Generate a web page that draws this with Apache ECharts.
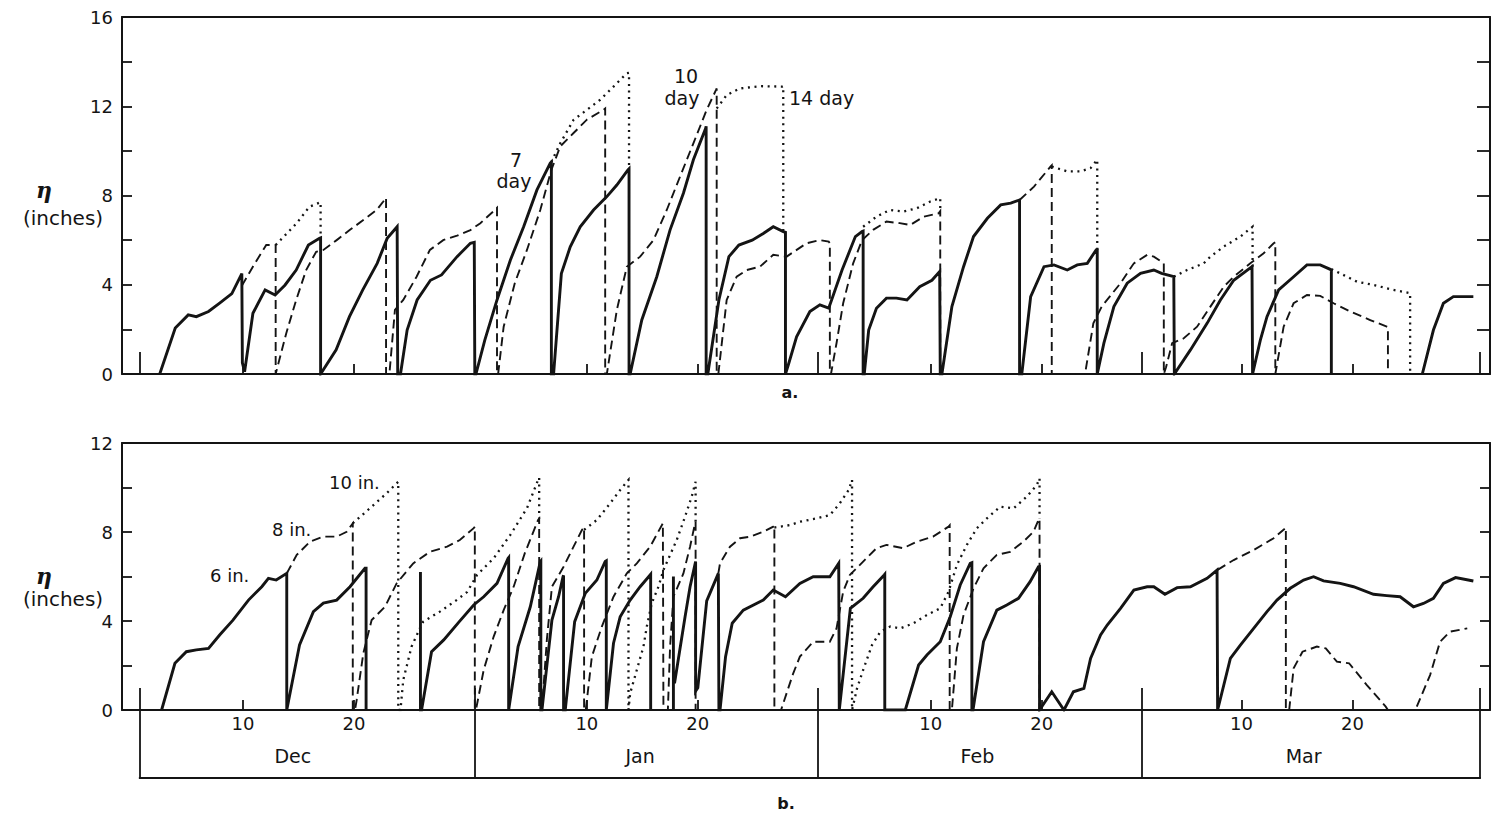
<!DOCTYPE html>
<html>
<head>
<meta charset="utf-8">
<script src="https://cdn.jsdelivr.net/npm/echarts@6/dist/echarts.min.js"></script>
<style>
  html, body { margin: 0; padding: 0; background: #ffffff; }
  #chart { width: 1499px; height: 821px; }
</style>
</head>
<body>
<div id="chart"></div>
<script>
// Day numbers are counted from 1 December (1 Dec = day 1, 1 Jan = day 32 ...).
// A null entry breaks the line.

// ---- axis ticks and labels ----
const dayTicks = [10, 20, 41, 51, 72, 82, 100, 110];
const dayTickLabels = ['10', '20', '10', '20', '10', '20', '10', '20'];
const monthEdges = [0.7, 30.9, 61.8, 91.0, 121.5];
const monthNames = ['Dec', 'Jan', 'Feb', 'Mar'];
const monthLabelDay = [14.5, 45.8, 76.2, 105.6];
const panelATicks = [0, 4, 8, 12, 16];
const panelBTicks = [0, 4, 8, 12];

// ---- panel a: ponded depth for 7, 10 and 14 day drainage intervals ----
const sevenDay = [
  [2.5,0],[3.9,2.06],[5.07,2.65],[5.8,2.57],[6.9,2.8],[7.9,3.18],[9.0,3.6],[9.9,4.5],[9.95,0.5],[10.15,0.1],
  [10.9,2.72],[12.0,3.77],[12.9,3.54],[13.8,3.99],[14.8,4.66],[15.9,5.78],[16.9,6.08],[17.0,6.1],[17.0,0],
  [18.4,1.08],[19.6,2.57],[20.8,3.77],[22.1,4.96],[23.0,6.08],[23.9,6.6],[23.95,0],[24.2,0],
  [24.8,1.97],[25.7,3.32],[26.9,4.2],[27.9,4.44],[29.3,5.26],[30.5,5.86],[30.85,5.9],[30.9,0],[31.0,0],
  [31.8,1.52],[32.9,3.32],[34.1,5.1],[35.3,6.6],[36.5,8.25],[37.7,9.45],[37.8,9.5],[37.8,0],[38.0,0],
  [38.7,4.5],[39.5,5.7],[40.4,6.6],[41.6,7.35],[42.8,7.95],[43.7,8.47],[44.7,9.15],[44.8,9.2],[44.8,0],[44.9,0],
  [45.95,2.42],[47.3,4.36],[48.5,6.46],[49.7,8.1],[50.6,9.6],[51.7,11.0],[51.75,11.1],[51.75,0],[51.9,0],
  [52.9,3.32],[53.8,5.26],[54.7,5.78],[55.9,6.0],[56.9,6.3],[57.8,6.6],[58.7,6.38],[58.9,6.35],[58.9,0],
  [59.2,0.48],[59.9,1.67],[61.1,2.8],[62.0,3.1],[62.8,2.95],[64.0,4.66],[65.2,6.16],[65.8,6.38],[65.9,6.4],[65.9,0],[66.0,0],
  [66.4,1.97],[67.1,2.95],[68.0,3.4],[68.9,3.4],[69.85,3.32],[71.0,3.91],[72.1,4.2],[72.8,4.59],[72.85,4.6],[72.85,0],[73.0,0],
  [73.9,3.02],[74.95,4.81],[75.85,6.16],[77.1,6.98],[78.3,7.58],[79.2,7.66],[80.0,7.8],[80.0,0],[80.2,0],
  [81.0,3.47],[82.2,4.81],[83.1,4.89],[84.3,4.66],[85.2,4.89],[86.1,4.96],[86.9,5.56],[87.0,5.56],[87.0,0],[87.05,0],
  [87.6,1.38],[88.5,3.02],[89.7,4.07],[90.9,4.51],[92.1,4.66],[92.8,4.51],[93.9,4.36],[93.95,0],[94.0,0],
  [95.4,1.08],[96.9,2.27],[98.1,3.32],[99.3,4.2],[100.95,4.81],[101.0,0],[101.05,0],
  [101.7,1.52],[102.3,2.57],[103.35,3.77],[104.7,4.36],[105.9,4.89],[107.1,4.89],[108.0,4.69],[108.1,4.65],[108.1,0],
  null,
  [116.3,0],[117.3,1.97],[118.2,3.17],[119.1,3.47],[120.9,3.47]
];

const tenDay = [
  [9.9,3.95],[11.0,4.9],[12.1,5.78],[12.95,5.78],[12.95,0],[13.0,0],
  [13.9,1.82],[14.8,3.32],[15.7,4.66],[16.6,5.48],[17.25,5.56],[18.45,6.0],[19.65,6.46],[20.85,6.9],[22.05,7.35],[22.65,7.73],[22.9,7.9],[22.9,0],[23.2,0],
  [23.7,2.87],[24.45,3.32],[25.65,4.36],[26.85,5.56],[28.05,6.0],[29.3,6.2],[30.5,6.45],[31.4,6.76],[32.7,7.35],[32.9,7.45],[32.9,0],[33.0,0],
  [33.5,2.12],[34.5,4.07],[35.6,5.56],[36.8,7.35],[37.8,9.15],[38.6,10.2],[39.8,10.8],[41.0,11.4],[42.5,11.84],[42.65,11.9],[42.65,0],[42.8,0],
  [43.7,2.87],[44.6,4.81],[45.8,5.26],[47.0,6.0],[48.2,7.35],[49.4,8.85],[50.6,10.34],[51.8,11.84],[52.65,12.74],[52.7,12.8],[52.7,0],[52.85,0],
  [53.6,3.32],[54.5,4.36],[55.4,4.66],[56.6,4.81],[57.8,5.34],[59.0,5.26],[60.8,5.86],[62.0,6.0],[62.8,5.93],[62.9,5.86],[62.9,0],[63.0,0],
  [63.5,1.38],[64.1,3.17],[65.0,4.96],[65.8,6.0],[66.8,6.46],[68.0,6.83],[69.2,6.76],[70.15,6.68],[71.35,7.05],[72.7,7.2],[72.85,7.3],[72.85,0],
  null,
  [80.0,7.8],[81.3,8.4],[82.8,9.3],[82.9,9.35],[82.9,0],[85.9,0],
  [86.65,2.27],[87.4,3.02],[89.1,4.07],[90.3,4.96],[91.5,5.34],[92.1,5.26],[93.0,4.96],[93.0,0],[93.2,0.3],
  [93.75,1.38],[94.8,1.6],[96.0,2.12],[97.2,3.02],[98.4,3.91],[99.3,4.36],[100.8,4.96],[102.0,5.41],[102.9,5.86],[103.05,5.9],[103.05,0],[103.1,0],
  [103.8,2.12],[104.7,3.17],[105.9,3.54],[107.1,3.5],[108.3,3.17],[109.8,2.8],[111.6,2.42],[113.1,2.12],[113.2,2.1],[113.2,0]
];

const fourteenDay = [
  [12.95,5.78],[14.85,6.76],[16.0,7.5],[17.0,7.7],[17.0,6.1],
  null,
  [37.8,9.5],[38.6,10.34],[39.8,11.39],[41.0,11.84],[42.2,12.29],[43.4,12.88],[44.6,13.48],[44.8,13.5],[44.8,9.2],
  null,
  [52.7,11.9],[53.6,12.5],[54.8,12.8],[56.6,12.9],[58.6,12.88],[58.7,12.9],[58.7,6.4],
  null,
  [65.9,6.6],[67.1,7.05],[68.3,7.35],[69.5,7.28],[70.75,7.43],[71.95,7.73],[72.85,7.88],[72.85,7.3],
  null,
  [82.9,9.3],[84.3,9.08],[85.5,9.08],[86.4,9.23],[87.0,9.6],[87.0,5.56],
  null,
  [93.9,4.36],[95.1,4.66],[96.6,4.96],[97.2,5.26],[98.4,5.71],[99.9,6.16],[101.0,6.6],[101.0,4.81],
  null,
  [108.1,4.7],[108.9,4.51],[110.4,4.14],[111.9,3.99],[113.7,3.77],[115.2,3.62],[115.2,0]
];

// ---- panel b: ponded depth for 6, 8 and 10 inch thresholds ----
const sixInch = [
  [2.67,0],[3.87,2.1],[4.9,2.62],[5.8,2.7],[6.9,2.77],[7.9,3.37],[9.1,4.04],[10.5,4.94],[11.7,5.54],[12.3,5.92],[13.0,5.84],[13.95,6.14],[13.95,0],[14.0,0],
  [15.1,2.92],[16.35,4.42],[17.25,4.8],[18.45,4.94],[19.65,5.54],[21.0,6.37],[21.1,6.37],[21.1,0],
  null,
  [26.0,6.2],[26.0,0],[26.1,0],[27.0,2.62],[28.1,3.15],[29.5,3.97],[30.8,4.72],[31.7,5.09],[32.9,5.69],[33.9,6.82],[33.95,6.85],[33.95,0],[34.0,0],
  [34.8,2.85],[35.9,4.64],[36.8,6.67],[36.85,6.7],[36.85,0],[36.95,0],
  [37.85,4.04],[38.45,5.09],[38.85,5.99],[38.9,6.05],[38.9,0],[39.05,0],
  [39.9,3.97],[40.85,5.24],[41.9,5.84],[42.65,6.67],[42.75,6.7],[42.75,0],[42.8,0],
  [43.4,3.0],[44.0,4.19],[44.9,4.94],[45.8,5.54],[46.7,6.07],[46.75,6.1],[46.75,0],
  null,
  [48.8,0],[48.8,6.0],
  null,
  [48.9,1.2],[49.85,4.19],[50.3,5.54],[50.8,6.67],[50.8,0.85],[51.0,1.0],[51.8,4.9],[52.85,6.14],[52.9,6.15],[52.9,0],[53.0,0],
  [53.5,2.4],[54.1,3.9],[55.1,4.49],[56.9,4.94],[57.8,5.39],[58.9,5.09],[60.2,5.69],[61.4,5.99],[62.9,5.99],[63.7,6.59],[63.75,6.6],[63.75,0],[63.8,0],
  [64.75,4.57],[65.9,5.02],[66.8,5.54],[67.8,6.07],[67.85,6.1],[67.85,0],[69.7,0],
  [70.9,2.02],[71.65,2.47],[72.85,3.07],[73.75,4.19],[74.65,5.62],[75.55,6.59],[75.7,6.62],[75.7,0],[75.8,0],
  [76.75,3.07],[77.95,4.49],[78.85,4.72],[79.9,5.02],[80.95,5.77],[81.7,6.44],[81.8,6.45],[81.8,0],
  [82.9,0.82],[84.0,0],[84.85,0.82],[85.8,0.97],[86.4,2.32],[87.3,3.37],[87.9,3.82],[89.1,4.57],[90.3,5.39],[91.5,5.54],[92.1,5.54],[93.1,5.2],[94.2,5.5],[95.4,5.54],[96.9,5.92],[97.8,6.29],[97.85,6.3],[97.85,0],[97.9,0],
  [99.0,2.32],[99.9,2.92],[101.1,3.67],[102.3,4.42],[103.2,4.94],[104.4,5.47],[105.6,5.84],[106.5,5.99],[107.4,5.8],[108.9,5.69],[110.1,5.54],[111.9,5.2],[113.1,5.14],[114.3,5.09],[115.5,4.64],[116.4,4.79],[117.3,5.02],[118.2,5.69],[119.3,5.95],[120.9,5.8]
];

const eightInch = [
  [13.95,6.14],[14.85,6.97],[16.05,7.57],[17.25,7.79],[18.45,7.79],[19.35,8.01],[19.9,8.39],[19.9,0],[20.1,0],
  [20.25,0.45],[20.85,2.55],[21.6,4.04],[22.8,4.64],[23.85,5.69],[25.35,6.59],[26.85,7.11],[28.4,7.34],[29.55,7.64],[30.8,8.17],[30.9,8.24],[30.9,0],[31.0,0],
  [31.7,1.8],[32.6,3.3],[33.5,4.49],[34.4,5.54],[35.4,7.04],[36.6,8.54],[36.7,8.6],[36.7,0],[36.95,0],
  [37.4,3.2],[37.85,5.54],[38.9,6.44],[39.8,7.34],[40.55,8.09],[40.75,8.2],[40.75,0],[40.9,0],
  [41.45,2.4],[42.35,3.75],[43.4,5.09],[44.6,6.14],[45.5,6.59],[46.7,7.34],[47.85,8.39],[47.9,8.4],[47.9,0],[48.3,0],
  [48.5,2.85],[48.8,5.09],[49.7,6.14],[50.3,7.34],[50.75,8.39],[50.8,8.45],[50.8,0],
  null,
  [52.85,6.14],[53.0,6.59],[53.9,7.34],[54.8,7.72],[55.7,7.79],[56.9,8.01],[57.8,8.24],[57.9,8.3],[57.9,0],[58.5,0],
  [58.7,0.3],[59.6,1.65],[60.2,2.4],[61.4,3.07],[62.9,3.07],[63.5,3.67],[64.1,5.32],[64.7,6.07],[65.9,6.67],[67.1,7.27],[68.0,7.42],[69.5,7.27],[70.75,7.57],[72.2,7.79],[73.6,8.24],[73.7,8.3],[73.7,0],[73.9,0],
  [74.35,2.77],[74.95,4.27],[75.85,5.47],[76.75,6.37],[77.95,6.97],[79.15,7.11],[80.35,7.57],[81.25,8.01],[81.7,8.54],[81.8,8.6],[81.8,0],
  null,
  [97.85,6.3],[99.3,6.74],[101.1,7.19],[102.9,7.72],[103.95,8.17],[104.0,8.2],[104.0,0],[104.3,0],
  [104.7,1.87],[105.5,2.62],[106.8,2.85],[107.6,2.77],[108.6,2.17],[109.7,2.1],[111.3,1.12],[113.0,0.15],[113.2,0],
  null,
  [115.8,0.15],[117.0,1.57],[117.9,3.07],[118.8,3.52],[120.35,3.67]
];

const tenInch = [
  [19.9,8.39],[21.45,9.07],[22.95,9.74],[24.0,10.26],[24.0,0],[24.2,0],
  [24.45,1.35],[25.2,2.85],[25.95,3.67],[26.25,3.97],[27.75,4.42],[29.25,4.94],[30.2,5.3],[31.1,6.07],[32.6,6.82],[34.1,7.87],[35.6,9.07],[36.65,10.4],[36.7,10.45],[36.7,8.6],
  null,
  [40.75,8.1],[41.9,8.54],[43.1,9.29],[44.0,9.89],[44.75,10.34],[44.75,0],
  [44.9,0.75],[45.5,1.8],[46.1,2.85],[46.4,3.75],[46.85,4.8],[47.45,5.54],[47.9,6.29],[48.5,6.97],[49.1,7.64],[49.85,8.69],[50.45,9.59],[50.8,10.26],[50.8,8.45],
  null,
  [57.9,8.2],[59.3,8.31],[60.2,8.46],[61.7,8.61],[62.9,8.76],[63.8,9.29],[64.6,9.89],[64.9,10.34],[64.9,0],
  [65.35,0.97],[65.95,1.87],[66.7,2.92],[67.45,3.52],[68.35,3.75],[69.25,3.67],[70.45,3.9],[71.65,4.27],[72.85,4.57],[73.6,5.32],[74.35,6.52],[75.25,7.42],[76.15,8.17],[77.05,8.61],[78.25,9.14],[79.45,9.06],[80.65,9.59],[81.55,10.11],[81.8,10.41],[81.8,8.6]
];

// ---- drawing ----
const INK = '#141414';
const FONT = 'DejaVu Sans';
const X_MIN = -0.9, X_MAX = 122.4;

// null -> empty point so that the line is broken there
function toSeriesData(points) {
  const out = [];
  let lastX = 0;
  for (const p of points) {
    if (p === null) { out.push([lastX, '-']); }
    else { out.push(p); lastX = p[0]; }
  }
  return out;
}

function lineSeries(name, points, xi, yi, style, z) {
  return {
    name, type: 'line', xAxisIndex: xi, yAxisIndex: yi,
    data: toSeriesData(points), showSymbol: false, symbol: 'none',
    connectNulls: false, smooth: false, z,
    lineStyle: Object.assign({ color: INK, join: 'miter', cap: 'butt' }, style)
  };
}

const SOLID = { width: 2.9, type: 'solid' };
const DASHED = { width: 1.9, type: [9, 5] };
const DOTTED = { width: 2.3, type: [2, 4.6] };

function baseX(gridIndex, extra) {
  return Object.assign({
    type: 'value', gridIndex, min: X_MIN, max: X_MAX, position: 'bottom',
    splitLine: { show: false },
    axisLine: { show: false, onZero: false },
    axisTick: { show: false },
    axisLabel: { show: false }
  }, extra);
}

function baseY(gridIndex, max, position, tickLen, labels) {
  return {
    type: 'value', gridIndex, min: 0, max, interval: 2, position,
    splitLine: { show: false },
    axisLine: { show: true, onZero: false, lineStyle: { color: INK, width: 2 } },
    axisTick: { show: true, inside: true, length: tickLen, lineStyle: { color: INK, width: 1.8 } },
    axisLabel: labels ? {
      show: true, margin: 9, color: INK, fontFamily: FONT, fontSize: 18,
      formatter: v => (labels.indexOf(v) >= 0 ? String(v) : '')
    } : { show: false }
  };
}

const axisLine = { show: true, onZero: false, lineStyle: { color: INK, width: 2 } };

const chart = echarts.init(document.getElementById('chart'), null, { renderer: 'svg' });

chart.setOption({
  animation: false,
  backgroundColor: '#ffffff',
  textStyle: { fontFamily: FONT, color: INK },
  grid: [
    { left: 122, top: 17, width: 1368, height: 357 },
    { left: 122, top: 443, width: 1368, height: 267 }
  ],
  xAxis: [
    // panel a
    baseX(0, { axisLine, axisTick: { show: true, inside: true, length: 10, customValues: dayTicks, lineStyle: { color: INK, width: 1.8 } } }),
    baseX(0, { axisTick: { show: true, inside: true, length: 22, customValues: monthEdges, lineStyle: { color: INK, width: 1.8 } } }),
    baseX(0, { position: 'top', axisLine }),
    // panel b
    baseX(1, {
      axisLine,
      axisTick: { show: true, inside: true, length: 10, customValues: dayTicks, lineStyle: { color: INK, width: 1.8 } },
      axisLabel: {
        show: true, margin: 4, color: INK, fontFamily: FONT, fontSize: 18,
        customValues: dayTicks,
        formatter: v => dayTickLabels[dayTicks.indexOf(v)] || ''
      }
    }),
    baseX(1, { axisTick: { show: true, inside: true, length: 22, customValues: monthEdges, lineStyle: { color: INK, width: 1.8 } } }),
    baseX(1, {
      axisTick: { show: true, inside: false, length: 68, customValues: monthEdges, lineStyle: { color: INK, width: 1.8 } },
      axisLabel: {
        show: true, margin: 36, color: INK, fontFamily: FONT, fontSize: 19,
        customValues: monthLabelDay,
        formatter: v => monthNames[monthLabelDay.indexOf(v)] || ''
      }
    }),
    baseX(1, { position: 'top', axisLine })
  ],
  yAxis: [
    baseY(0, 16, 'left', 10, panelATicks),
    baseY(0, 16, 'right', 13, null),
    baseY(1, 12, 'left', 10, panelBTicks),
    baseY(1, 12, 'right', 10, null)
  ],
  series: [
    lineSeries('14 day', fourteenDay, 0, 0, DOTTED, 2),
    lineSeries('10 day', tenDay, 0, 0, DASHED, 3),
    lineSeries('7 day', sevenDay, 0, 0, SOLID, 4),
    lineSeries('10 in.', tenInch, 3, 2, DOTTED, 2),
    lineSeries('8 in.', eightInch, 3, 2, DASHED, 3),
    lineSeries('6 in.', sixInch, 3, 2, SOLID, 4),
    {
      // bottom edge of the month strip under panel b
      type: 'custom', xAxisIndex: 3, yAxisIndex: 2, clip: false, silent: true,
      data: [[monthEdges[0], monthEdges[monthEdges.length - 1]]],
      encode: { x: [0, 1] },
      renderItem: function (params, api) {
        const a = api.coord([api.value(0), 0]);
        const b = api.coord([api.value(1), 0]);
        return {
          type: 'line',
          shape: { x1: a[0] - 0.9, y1: a[1] + 68, x2: b[0] + 0.9, y2: b[1] + 68 },
          style: { stroke: INK, lineWidth: 2 }
        };
      }
    }
  ],
  graphic: [
    // axis titles
    { type: 'text', x: 44, y: 190, style: { text: 'η', font: 'italic bold 22px "DejaVu Serif"', fill: INK, textAlign: 'center', textVerticalAlign: 'middle' } },
    { type: 'text', x: 63, y: 218, style: { text: '(inches)', font: '20px "DejaVu Sans"', fill: INK, textAlign: 'center', textVerticalAlign: 'middle' } },
    { type: 'text', x: 44, y: 576, style: { text: 'η', font: 'italic bold 22px "DejaVu Serif"', fill: INK, textAlign: 'center', textVerticalAlign: 'middle' } },
    { type: 'text', x: 63, y: 599, style: { text: '(inches)', font: '20px "DejaVu Sans"', fill: INK, textAlign: 'center', textVerticalAlign: 'middle' } },
    // panel captions
    { type: 'text', x: 790, y: 392, style: { text: 'a.', font: 'bold 16px "DejaVu Sans"', fill: INK, textAlign: 'center', textVerticalAlign: 'middle' } },
    { type: 'text', x: 786, y: 803, style: { text: 'b.', font: 'bold 16px "DejaVu Sans"', fill: INK, textAlign: 'center', textVerticalAlign: 'middle' } },
    // curve names, panel a
    { type: 'text', x: 516, y: 160, style: { text: '7', font: '19px "DejaVu Sans"', fill: INK, textAlign: 'center', textVerticalAlign: 'middle' } },
    { type: 'text', x: 514, y: 181, style: { text: 'day', font: '19px "DejaVu Sans"', fill: INK, textAlign: 'center', textVerticalAlign: 'middle' } },
    { type: 'text', x: 686, y: 76, style: { text: '10', font: '19px "DejaVu Sans"', fill: INK, textAlign: 'center', textVerticalAlign: 'middle' } },
    { type: 'text', x: 682, y: 98, style: { text: 'day', font: '19px "DejaVu Sans"', fill: INK, textAlign: 'center', textVerticalAlign: 'middle' } },
    { type: 'text', x: 789, y: 98, style: { text: '14 day', font: '19px "DejaVu Sans"', fill: INK, textAlign: 'left', textVerticalAlign: 'middle' } },
    // curve names, panel b
    { type: 'text', x: 329, y: 482, style: { text: '10 in.', font: '18px "DejaVu Sans"', fill: INK, textAlign: 'left', textVerticalAlign: 'middle' } },
    { type: 'text', x: 272, y: 529, style: { text: '8 in.', font: '18px "DejaVu Sans"', fill: INK, textAlign: 'left', textVerticalAlign: 'middle' } },
    { type: 'text', x: 210, y: 575, style: { text: '6 in.', font: '18px "DejaVu Sans"', fill: INK, textAlign: 'left', textVerticalAlign: 'middle' } }
  ]
});
</script>
</body>
</html>
